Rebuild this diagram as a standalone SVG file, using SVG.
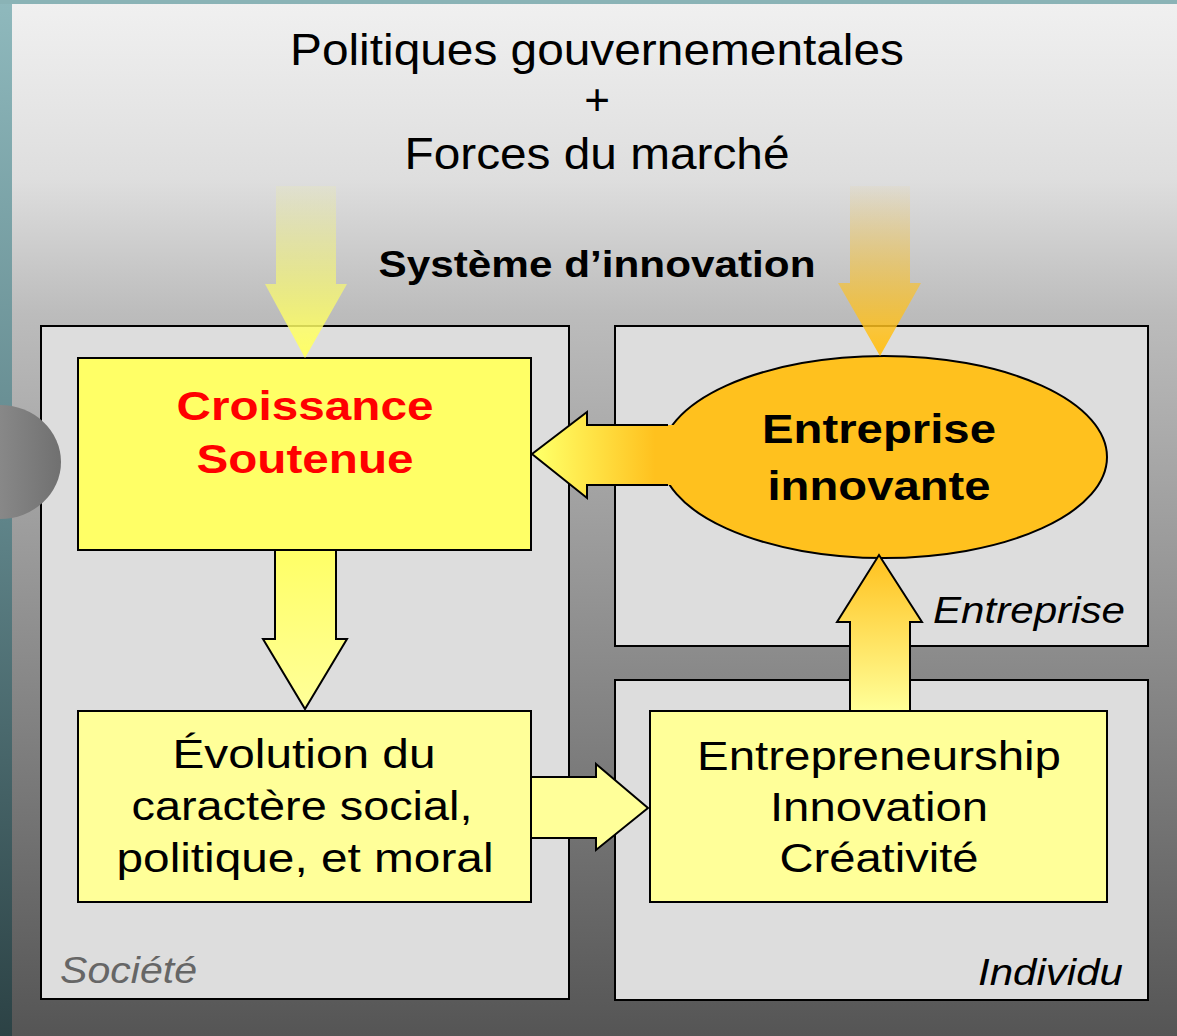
<svg xmlns="http://www.w3.org/2000/svg" width="1177" height="1036" viewBox="0 0 1177 1036">
<defs>
<linearGradient id="teal" x1="0" y1="0" x2="0" y2="1"><stop offset="0" stop-color="#8fb9bd"/><stop offset="0.5" stop-color="#5f8489"/><stop offset="1" stop-color="#2c4245"/></linearGradient>
<linearGradient id="bg" x1="0" y1="0" x2="0" y2="1"><stop offset="0" stop-color="#f0f0f0"/><stop offset="0.17" stop-color="#dedede"/><stop offset="0.3" stop-color="#bcbcbc"/><stop offset="1" stop-color="#555555"/></linearGradient>
<linearGradient id="grayEl" x1="0" y1="0" x2="1" y2="0"><stop offset="0" stop-color="#a0a0a0"/><stop offset="1" stop-color="#707070"/></linearGradient>
<linearGradient id="topL" x1="0" y1="0" x2="0" y2="1"><stop offset="0" stop-color="#ffff66" stop-opacity="0.1"/><stop offset="1" stop-color="#ffff66"/></linearGradient>
<linearGradient id="topR" x1="0" y1="0" x2="0" y2="1"><stop offset="0" stop-color="#ffc11e" stop-opacity="0.05"/><stop offset="1" stop-color="#ffc11e"/></linearGradient>
<linearGradient id="hArr" x1="540" y1="0" x2="655" y2="0" gradientUnits="userSpaceOnUse"><stop offset="0" stop-color="#ffff66"/><stop offset="1" stop-color="#ffc11e"/></linearGradient>
<linearGradient id="upArr" x1="0" y1="711" x2="0" y2="555" gradientUnits="userSpaceOnUse"><stop offset="0" stop-color="#ffff99"/><stop offset="1" stop-color="#ffc11e"/></linearGradient>
<linearGradient id="dnArr" x1="0" y1="550" x2="0" y2="709" gradientUnits="userSpaceOnUse"><stop offset="0" stop-color="#ffff66"/><stop offset="1" stop-color="#ffff99"/></linearGradient>
</defs>
<style>
.t{font-family:"Liberation Sans",Arial,sans-serif;text-anchor:middle}
.big{font-size:41px}
.b{font-weight:bold}
.zone{fill:#dddddd;stroke:#000;stroke-width:2}
.box{stroke:#000;stroke-width:2}
.lab{font-family:"Liberation Sans",Arial,sans-serif;font-style:italic;font-size:37px}
.arr{stroke:#000;stroke-width:2;stroke-linejoin:miter}
</style>
<rect x="0" y="0" width="1177" height="1036" fill="url(#teal)"/>
<rect x="0" y="0" width="1177" height="4" fill="#8ab3b6"/>
<rect x="12" y="4" width="1165" height="1032" fill="url(#bg)"/>

<g id="zone-societe"><rect class="zone" x="41" y="326" width="528" height="673"/><text class="lab" x="60" y="983" fill="#666666" textLength="137" lengthAdjust="spacingAndGlyphs">Société</text></g>
<g id="zone-entreprise"><rect class="zone" x="615" y="326" width="533" height="320"/><text class="lab" x="933" y="623" textLength="192" lengthAdjust="spacingAndGlyphs">Entreprise</text></g>
<g id="zone-individu"><rect class="zone" x="615" y="680" width="533" height="320"/><text class="lab" x="978" y="985" textLength="145" lengthAdjust="spacingAndGlyphs">Individu</text></g>

<ellipse id="gray-ellipse" cx="0" cy="462" rx="61" ry="57" fill="url(#grayEl)"/>

<g id="title">
<text class="t" font-size="44" x="597" y="65" textLength="614" lengthAdjust="spacingAndGlyphs">Politiques gouvernementales</text>
<text class="t" font-size="44" x="597" y="115">+</text>
<text class="t" font-size="44" x="597" y="169" textLength="385" lengthAdjust="spacingAndGlyphs">Forces du marché</text>
<text class="t b" x="597" y="277" font-size="37" textLength="437" lengthAdjust="spacingAndGlyphs">Système d’innovation</text>
</g>

<g id="croissance"><rect class="box" x="78" y="358" width="453" height="192" fill="#ffff66"/>
<text class="t big b" x="305" y="420" fill="#ff0000" textLength="257" lengthAdjust="spacingAndGlyphs">Croissance</text><text class="t big b" x="305" y="473" fill="#ff0000" textLength="217" lengthAdjust="spacingAndGlyphs">Soutenue</text></g>
<g id="evolution"><rect class="box" x="78" y="711" width="453" height="191" fill="#ffff99"/>
<text class="t big" x="304" y="768" textLength="263" lengthAdjust="spacingAndGlyphs">Évolution du</text><text class="t big" x="302" y="820" textLength="341" lengthAdjust="spacingAndGlyphs">caractère social,</text><text class="t big" x="305" y="872" textLength="377" lengthAdjust="spacingAndGlyphs">politique, et moral</text></g>
<g id="entrepreneurship"><rect class="box" x="650" y="711" width="457" height="191" fill="#ffff99"/>
<text class="t big" x="879" y="770" textLength="364" lengthAdjust="spacingAndGlyphs">Entrepreneurship</text><text class="t big" x="879" y="821" textLength="218" lengthAdjust="spacingAndGlyphs">Innovation</text><text class="t big" x="879" y="872" textLength="199" lengthAdjust="spacingAndGlyphs">Créativité</text></g>

<g id="entreprise-innovante"><ellipse class="box" cx="884" cy="457" rx="223" ry="101" fill="#ffc11e"/></g>

<g id="connectors">
<polygon points="276,186 336,186 336,284 347,284 305,358 265,284 276,284" fill="url(#topL)"/>
<polygon points="850,186 910,186 910,283 921,283 880,356 838,283 850,283" fill="url(#topR)"/>
<polygon class="arr" points="275,550 336,550 336,639 347,639 305,709 263,639 275,639" fill="url(#dnArr)"/>
<polygon class="arr" points="531,777 596,777 596,764 648,808 596,850 596,838 531,838" fill="#ffff99"/>
<polygon class="arr" points="850,711 850,622 837,622 879,555 922,622 910,622 910,711" fill="url(#upArr)"/>
<polygon points="700,425 587,425 587,412 532,454 587,498 587,485 700,485" fill="url(#hArr)"/>
<polyline class="arr" fill="none" points="668,425 587,425 587,412 532,454 587,498 587,485 668,485"/>
</g>

<g id="entreprise-innovante-label">
<text class="t big b" x="879" y="443" textLength="234" lengthAdjust="spacingAndGlyphs">Entreprise</text><text class="t big b" x="879" y="500" textLength="223" lengthAdjust="spacingAndGlyphs">innovante</text></g>
</svg>
